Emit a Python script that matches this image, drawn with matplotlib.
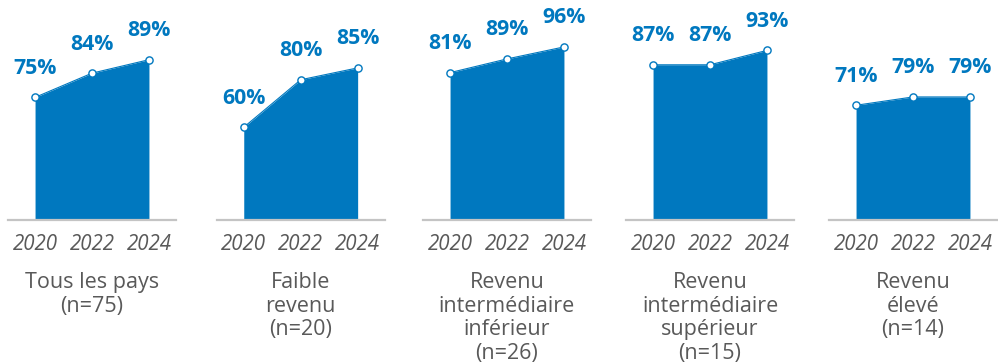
import matplotlib
matplotlib.use("Agg")
import matplotlib.pyplot as plt

# Data
years = [2020, 2022, 2024]
groups = [
    "Tous les pays\n(n=75)",
    "Faible\nrevenu\n(n=20)",
    "Revenu\nintermédiaire\ninférieur\n(n=26)",
    "Revenu\nintermédiaire\nsupérieur\n(n=15)",
    "Revenu\nélevé\n(n=14)",
]
tous_les_pays = [75, 84, 89]
faible_revenu = [60, 80, 85]
intermediaire_inferieur = [81, 89, 96]
intermediaire_superieur = [87, 87, 93]
revenu_eleve = [71, 79, 79]
series = [tous_les_pays, faible_revenu, intermediaire_inferieur,
          intermediaire_superieur, revenu_eleve]

# Each small panel keeps its own vertical scale
y_limits = [(29.3, 111.2), (20.8, 113.6), (-5.2, 123.4), (22.2, 114.0), (-39.6, 172.2)]

BLUE = "#0078BF"
GREY_TEXT = "#595959"
GREY_LINE = "#C4C4C4"
FONT = "Open Sans"

W, H = 998, 364
fig = plt.figure(figsize=(W / 100, H / 100), dpi=100)

lefts_px = [8, 216.7, 423, 626, 829]
width_px = 168
bottom_px = 220.3
top_px = 0

for left, label, vals, ylim in zip(lefts_px, groups, series, y_limits):
    ax = fig.add_axes([left / W, (H - bottom_px) / H, width_px / W, (bottom_px - top_px) / H])
    ax.set_xlim(2019.05, 2024.95)
    ax.set_ylim(*ylim)
    ax.fill_between(years, ylim[0], vals, color=BLUE, linewidth=0, zorder=2)
    ax.plot(years, vals, color=BLUE, lw=0.8, marker="o", ms=5.2,
            mfc="white", mec=BLUE, mew=1.0, zorder=4, clip_on=False)
    ax.axhline(ylim[0], color=GREY_LINE, lw=1.6, zorder=3, clip_on=False)

    for x, v in zip(years, vals):
        ax.annotate(f"{v}%", xy=(x, v), xytext=(0, 29), textcoords="offset pixels",
                    ha="center", va="center", color=BLUE, fontsize=15.3,
                    fontweight="bold", family=FONT, annotation_clip=False)

    ax.set_xticks(years)
    ax.set_xticklabels([str(y) for y in years], fontsize=14.8, style="italic",
                       color=GREY_TEXT, family=FONT)
    ax.tick_params(axis="x", length=0, pad=10)
    ax.set_yticks([])
    for s in ax.spines.values():
        s.set_visible(False)
    ax.patch.set_visible(False)

    ax.annotate(label, xy=(0.5, 0), xycoords="axes fraction",
                xytext=(0, -52), textcoords="offset pixels",
                ha="center", va="top", fontsize=15.5, color=GREY_TEXT,
                family=FONT, linespacing=1.16, annotation_clip=False)

fig.savefig("out.png", dpi=100, facecolor="white")
